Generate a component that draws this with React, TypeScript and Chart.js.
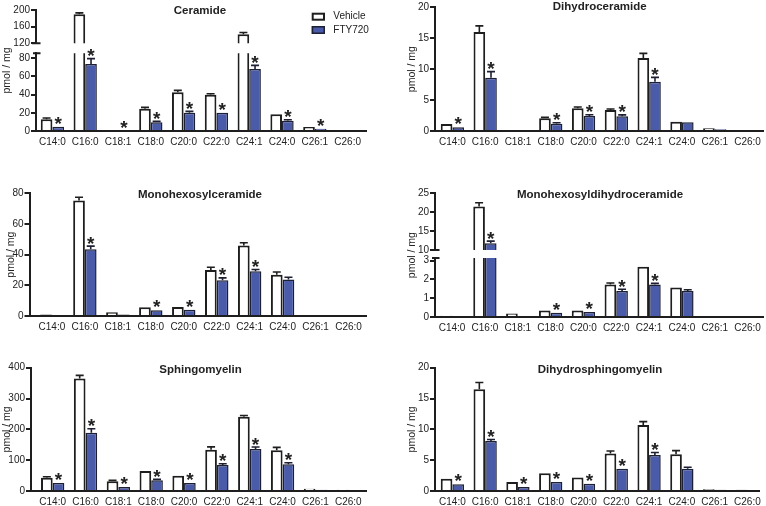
import React, { useEffect, useRef } from 'react';
import { Chart, registerables } from 'chart.js';

Chart.register(...registerables);

const FONT = "'Liberation Sans', Arial, Helvetica, sans-serif";
Chart.defaults.font.family = FONT;

const CATEGORIES = ['C14:0', 'C16:0', 'C18:1', 'C18:0', 'C20:0', 'C22:0', 'C24:1', 'C24:0', 'C26:1', 'C26:0'];
const SERIES = ['Vehicle', 'FTY720'];
const Y_TITLE = 'pmol / mg';

// Ceramide
const CER_VEH = [13, 190, 0.6, 24.4, 42.4, 39.7, 142, 18.3, 4.4, 0.3];
const CER_VEH_SEM = [1.2, 3, 0.1, 1.5, 2.2, 1.2, 4, 0.8, 0.4, 0.1];
const CER_FTY = [4.7, 73.4, 0.2, 9.5, 20, 20, 68, 11.3, 2.5, 0.2];
const CER_FTY_SEM = [0.5, 6, 0.1, 1, 1.5, 0.8, 4, 1, 0.3, 0.05];
const CER_SIG = [1, 1, 1, 1, 1, 1, 1, 1, 1, 0];
const CER_TICKS_LOW = [0, 20, 40, 60, 80];
const CER_TICKS_HIGH = [120, 160, 200];

// Dihydroceramide
const DHC_VEH = [1.13, 16.0, 0.05, 2.05, 3.67, 3.4, 11.8, 1.5, 0.43, 0.05];
const DHC_VEH_SEM = [0.1, 1.0, 0.02, 0.15, 0.2, 0.15, 0.75, 0.1, 0.05, 0.02];
const DHC_FTY = [0.6, 8.6, 0.02, 1.18, 2.42, 2.4, 7.97, 1.4, 0.3, 0.03];
const DHC_FTY_SEM = [0.1, 1.0, 0.01, 0.15, 0.2, 0.2, 0.7, 0.1, 0.04, 0.01];
const DHC_SIG = [1, 1, 0, 1, 1, 1, 1, 0, 0, 0];
const DHC_TICKS = [0, 5, 10, 15, 20];

// Monohexosylceramide
const MHC_VEH = [1.1, 75.2, 2.6, 5.8, 6.05, 30, 46, 27, 0.8, 0.3];
const MHC_VEH_SEM = [0.2, 2, 0.3, 0.4, 0.3, 1.8, 1.7, 1.7, 0.1, 0.05];
const MHC_FTY = [0.6, 43.5, 1.1, 3.9, 4.3, 23.4, 29.2, 23.8, 0.5, 0.2];
const MHC_FTY_SEM = [0.1, 2, 0.2, 0.4, 0.4, 1.5, 1.2, 1.5, 0.1, 0.05];
const MHC_SIG = [0, 1, 0, 1, 1, 1, 1, 0, 0, 0];
const MHC_TICKS = [0, 20, 40, 60, 80];

// Monohexosyldihydroceramide
const MHD_VEH = [0.07, 21.5, 0.18, 0.34, 0.34, 1.73, 2.68, 1.57, 0.01, 0.01];
const MHD_VEH_SEM = [0.01, 1.0, 0.03, 0.03, 0.03, 0.08, 0.04, 0.04, 0.0, 0.0];
const MHD_FTY = [0.04, 11.8, 0.03, 0.23, 0.27, 1.38, 1.73, 1.39, 0.01, 0.01];
const MHD_FTY_SEM = [0.01, 0.55, 0.01, 0.02, 0.02, 0.1, 0.06, 0.06, 0.0, 0.0];
const MHD_SIG = [0, 1, 0, 1, 1, 1, 1, 0, 0, 0];
const MHD_TICKS_LOW = [0, 1, 2, 3];
const MHD_TICKS_HIGH = [10, 15, 20, 25];

// Sphingomyelin
const SM_VEH = [43.2, 365, 31.4, 65, 49.7, 134, 241, 132, 7.6, 4.3];
const SM_VEH_SEM = [3, 10, 3, 2, 2, 9, 4, 9.5, 0.8, 0.5];
const SM_FTY = [26, 189, 13, 34.6, 26, 84.3, 136, 86.5, 4.3, 3.2];
const SM_FTY_SEM = [2, 13, 1.5, 3, 2, 4, 6.5, 5, 0.5, 0.4];
const SM_SIG = [1, 1, 1, 1, 1, 1, 1, 1, 0, 0];
const SM_TICKS = [0, 100, 200, 300, 400];

// Dihydrosphingomyelin
const DSM_VEH = [2.0, 16.5, 1.46, 2.86, 2.2, 6.1, 10.7, 5.95, 0.27, 0.2];
const DSM_VEH_SEM = [0.1, 1.1, 0.1, 0.1, 0.1, 0.4, 0.55, 0.6, 0.03, 0.02];
const DSM_FTY = [1.08, 8.1, 0.65, 1.46, 1.19, 3.6, 5.84, 3.6, 0.2, 0.15];
const DSM_FTY_SEM = [0.08, 0.25, 0.05, 0.1, 0.08, 0.1, 0.4, 0.25, 0.02, 0.02];
const DSM_SIG = [1, 1, 1, 1, 1, 1, 1, 0, 0, 0];
const DSM_TICKS = [0, 5, 10, 15, 20];

const INK = '#1e1e1e';
const TEXT = '#222222';
const BLUE = '#4a5ba9';
const BLUE_EDGE = '#1d1f33';

type Segment = { min: number; max: number; ticks: number[]; px: number };
type Panel = {
  title: string;
  left: number; top: number; width: number; height: number;
  titleX: number; titleY: number; yTitleX: number;
  axisX: number; axisTop: number; axisBottom: number; axisRight: number;
  xMin: number; xMax: number;
  segments: Segment[];
  gap: number;
  veh: number[]; vehErr: number[]; fty: number[]; ftyErr: number[]; sig: number[];
  legend?: { x: number; y: number };
};

const PANELS: Panel[] = [
  {
    title: 'Ceramide', left: 0, top: 0, width: 383, height: 168,
    titleX: 200, titleY: 10.5, yTitleX: 7,
    axisX: 36, axisTop: 10, axisBottom: 131, axisRight: 366,
    xMin: -0.5, xMax: 9.56,
    segments: [
      { min: 0, max: 85.2, ticks: CER_TICKS_LOW, px: 77.7 },
      { min: 120, max: 200, ticks: CER_TICKS_HIGH, px: 33.3 },
    ],
    gap: 10,
    veh: CER_VEH, vehErr: CER_VEH_SEM, fty: CER_FTY, ftyErr: CER_FTY_SEM, sig: CER_SIG,
    legend: { x: 311.7, y: 12.7 },
  },
  {
    title: 'Dihydroceramide', left: 383, top: 0, width: 383, height: 168,
    titleX: 216.7, titleY: 6.5, yTitleX: 28.7,
    axisX: 52, axisTop: 7.3, axisBottom: 131, axisRight: 381,
    xMin: -0.53, xMax: 9.5,
    segments: [{ min: 0, max: 20, ticks: DHC_TICKS, px: 1 }],
    gap: 0,
    veh: DHC_VEH, vehErr: DHC_VEH_SEM, fty: DHC_FTY, ftyErr: DHC_FTY_SEM, sig: DHC_SIG,
  },
  {
    title: 'Monohexosylceramide', left: 0, top: 168, width: 383, height: 168,
    titleX: 200, titleY: 27, yTitleX: 10.8,
    axisX: 29.5, axisTop: 25, axisBottom: 148.3, axisRight: 366,
    xMin: -0.68, xMax: 9.53,
    segments: [{ min: 0, max: 80, ticks: MHC_TICKS, px: 1 }],
    gap: 0,
    veh: MHC_VEH, vehErr: MHC_VEH_SEM, fty: MHC_FTY, ftyErr: MHC_FTY_SEM, sig: MHC_SIG,
  },
  {
    title: 'Monohexosyldihydroceramide', left: 383, top: 168, width: 383, height: 168,
    titleX: 217, titleY: 27, yTitleX: 28.7,
    axisX: 52, axisTop: 25.3, axisBottom: 149, axisRight: 381,
    xMin: -0.52, xMax: 9.49,
    segments: [
      { min: 0, max: 3.14, ticks: MHD_TICKS_LOW, px: 59 },
      { min: 10, max: 25, ticks: MHD_TICKS_HIGH, px: 56.7 },
    ],
    gap: 8,
    veh: MHD_VEH, vehErr: MHD_VEH_SEM, fty: MHD_FTY, ftyErr: MHD_FTY_SEM, sig: MHD_SIG,
  },
  {
    title: 'Sphingomyelin', left: 0, top: 336, width: 383, height: 170,
    titleX: 200.5, titleY: 33.5, yTitleX: 7.5,
    axisX: 31, axisTop: 31.7, axisBottom: 155, axisRight: 366,
    xMin: -0.66, xMax: 9.54,
    segments: [{ min: 0, max: 400, ticks: SM_TICKS, px: 1 }],
    gap: 0,
    veh: SM_VEH, vehErr: SM_VEH_SEM, fty: SM_FTY, ftyErr: SM_FTY_SEM, sig: SM_SIG,
  },
  {
    title: 'Dihydrosphingomyelin', left: 383, top: 336, width: 383, height: 170,
    titleX: 217, titleY: 33.5, yTitleX: 28.7,
    axisX: 52, axisTop: 31.7, axisBottom: 155, axisRight: 377,
    xMin: -0.53, xMax: 9.38,
    segments: [{ min: 0, max: 20, ticks: DSM_TICKS, px: 1 }],
    gap: 0,
    veh: DSM_VEH, vehErr: DSM_VEH_SEM, fty: DSM_FTY, ftyErr: DSM_FTY_SEM, sig: DSM_SIG,
  },
];

function makePlugin(p: Panel) {
  return {
    id: 'panelDecor',
    afterDatasetsDraw(chart: any) {
      const ctx = chart.ctx as CanvasRenderingContext2D;
      const series = [
        { vals: p.veh, errs: p.vehErr, color: INK, sig: null as number[] | null },
        { vals: p.fty, errs: p.ftyErr, color: BLUE_EDGE, sig: p.sig },
      ];
      ctx.save();
      chart.data.datasets.forEach((_: any, di: number) => {
        const meta = chart.getDatasetMeta(di);
        const s = series[di % 2];
        const yScale = chart.scales[meta.yAxisID];
        meta.data.forEach((bar: any, i: number) => {
          const v = s.vals[i];
          const e = s.errs[i];
          if (v < yScale.min || v > yScale.max) return;
          const x = bar.x;
          const y0 = yScale.getPixelForValue(v);
          const y1 = yScale.getPixelForValue(Math.min(v + e, yScale.max));
          if (y0 - y1 > 0.8) {
            ctx.strokeStyle = s.color;
            ctx.lineWidth = 1.6;
            ctx.beginPath();
            ctx.moveTo(x, y0);
            ctx.lineTo(x, y1);
            ctx.moveTo(x - 4, y1);
            ctx.lineTo(x + 4, y1);
            ctx.stroke();
          }
          if (s.sig && s.sig[i]) {
            ctx.fillStyle = TEXT;
            ctx.font = `bold 19px ${FONT}`;
            ctx.textAlign = 'center';
            ctx.textBaseline = 'alphabetic';
            ctx.fillText('*', x, y1 + 3.5);
          }
        });
      });
      ctx.restore();
    },
    afterDraw(chart: any) {
      const ctx = chart.ctx as CanvasRenderingContext2D;
      const area = chart.chartArea;
      ctx.save();
      ctx.fillStyle = TEXT;
      ctx.font = `bold 11.5px ${FONT}`;
      ctx.textAlign = 'center';
      ctx.textBaseline = 'middle';
      ctx.fillText(p.title, p.titleX, p.titleY);
      ctx.save();
      ctx.translate(p.yTitleX, (area.top + area.bottom) / 2);
      ctx.rotate(-Math.PI / 2);
      ctx.font = `10.5px ${FONT}`;
      ctx.fillText(Y_TITLE, 0, 0);
      ctx.restore();
      if (p.segments.length > 1) {
        const hi = chart.scales.yHigh;
        const lo = chart.scales.y;
        ctx.strokeStyle = INK;
        ctx.lineWidth = 2;
        ctx.beginPath();
        ctx.moveTo(p.axisX - 4, hi.bottom);
        ctx.lineTo(p.axisX + 4.5, hi.bottom);
        ctx.moveTo(p.axisX - 3, lo.top);
        ctx.lineTo(p.axisX + 4.5, lo.top);
        ctx.stroke();
      }
      if (p.legend) {
        const { x, y } = p.legend;
        [0, 1].forEach((k) => {
          const by = y + k * 13.3;
          const lw = k ? 1.5 : 2;
          ctx.fillStyle = k ? BLUE : '#ffffff';
          ctx.fillRect(x, by, 13.3, 8);
          ctx.strokeStyle = k ? BLUE_EDGE : INK;
          ctx.lineWidth = lw;
          ctx.strokeRect(x + lw / 2, by + lw / 2, 13.3 - lw, 8 - lw);
          ctx.fillStyle = TEXT;
          ctx.font = `10px ${FONT}`;
          ctx.textAlign = 'left';
          ctx.textBaseline = 'middle';
          ctx.fillText(SERIES[k], x + 21.6, by + 4);
        });
      }
      ctx.restore();
    },
  };
}

function buildConfig(p: Panel): any {
  const broken = p.segments.length > 1;
  const low = p.segments[0];
  const high = p.segments[1];

  const yScale = (seg: Segment, weight: number) => ({
    type: 'linear',
    position: 'left',
    min: seg.min,
    max: seg.max,
    offset: false,
    ...(broken ? { stack: 'v', stackWeight: seg.px, weight } : {}),
    border: { display: true, color: INK, width: 2 },
    grid: {
      display: true, drawOnChartArea: false, drawTicks: true,
      tickLength: 5, tickWidth: 2, tickColor: INK, color: INK, lineWidth: 2,
    },
    ticks: { color: TEXT, font: { size: 10 }, padding: 1, autoSkip: false },
    afterBuildTicks: (s: any) => { s.ticks = seg.ticks.map((v) => ({ value: v })); },
    afterFit: (s: any) => { s.width = p.axisX; },
  });

  const xScale = {
    type: 'linear',
    position: 'bottom',
    min: p.xMin,
    max: p.xMax,
    offset: false,
    border: { display: true, color: INK, width: 2, z: 1 },
    grid: { display: false, drawTicks: false, offset: false },
    ticks: {
      color: TEXT, font: { size: 10 }, padding: 5, autoSkip: false, maxRotation: 0, minRotation: 0,
      callback: (v: number) => CATEGORIES[Math.round(v)] ?? '',
    },
    afterBuildTicks: (s: any) => { s.ticks = CATEGORIES.map((_, i) => ({ value: i })); },
    afterFit: (s: any) => { s.height = p.height - p.axisBottom; },
  };

  const scales: any = { x: xScale, y: yScale(low, 1) };
  if (broken) {
    scales.yHigh = yScale(high, 3);
    scales.yGap = {
      type: 'linear', position: 'left', stack: 'v', stackWeight: p.gap, weight: 2,
      grid: { display: false, drawTicks: false }, border: { display: false }, ticks: { display: false },
      afterFit: (s: any) => { s.width = p.axisX; },
    };
  }

  const mk = (label: string, vals: number[], blue: boolean, yId: string) => ({
    label,
    data: vals.map((v, i) => ({ x: i, y: v })),
    xAxisID: 'x',
    yAxisID: yId,
    stack: label,
    backgroundColor: blue ? BLUE : '#ffffff',
    borderColor: blue ? BLUE_EDGE : INK,
    borderWidth: blue ? 1.5 : 2,
    categoryPercentage: 0.71,
    barPercentage: 1,
    clip: 0,
  });

  const datasets = [
    mk(SERIES[0], p.veh, false, 'y'),
    mk(SERIES[1], p.fty, true, 'y'),
  ];
  if (broken) {
    datasets.push(mk(SERIES[0], p.veh, false, 'yHigh'));
    datasets.push(mk(SERIES[1], p.fty, true, 'yHigh'));
  }

  return {
    type: 'bar',
    data: { datasets },
    options: {
      animation: false,
      responsive: false,
      maintainAspectRatio: false,
      events: [],
      layout: {
        autoPadding: false,
        padding: { left: 0, top: p.axisTop, right: p.width - p.axisRight, bottom: 0 },
      },
      plugins: { legend: { display: false }, tooltip: { enabled: false }, title: { display: false } },
      scales,
    },
    plugins: [makePlugin(p)],
  };
}

function PanelChart({ panel }: { panel: Panel }) {
  const ref = useRef<HTMLCanvasElement>(null);
  useEffect(() => {
    if (!ref.current) return;
    const chart = new Chart(ref.current, buildConfig(panel));
    return () => chart.destroy();
  }, [panel]);
  return (
    <canvas
      ref={ref}
      width={panel.width}
      height={panel.height}
      style={{ position: 'absolute', left: panel.left, top: panel.top, width: panel.width, height: panel.height }}
    />
  );
}

export default function App() {
  return (
    <div style={{ position: 'absolute', left: 0, top: 0, width: 766, height: 506, background: '#ffffff' }}>
      {PANELS.map((p) => (
        <PanelChart key={p.title} panel={p} />
      ))}
    </div>
  );
}
